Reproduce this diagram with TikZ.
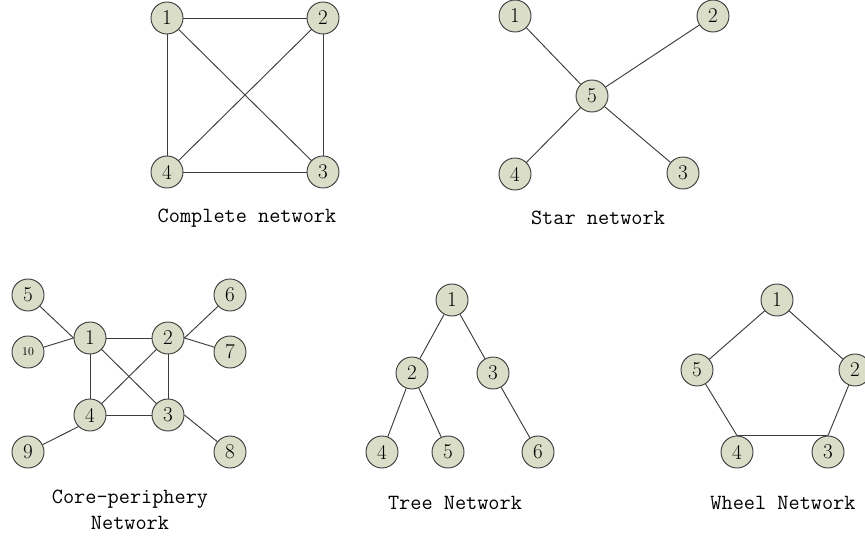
\documentclass[tikz,border=0pt]{standalone}
\usepackage{amsmath}
\usepackage{tikz}
\usetikzlibrary{positioning}

\definecolor{nodefill}{RGB}{218,222,201}
\definecolor{linegray}{RGB}{60,60,60}

\begin{document}
\begin{tikzpicture}[x=0.03cm,y=-0.03cm,
    vertex/.style={circle,draw=linegray,line width=0.8pt,fill=nodefill,
        minimum size=0.96cm,inner sep=0pt,font=\fontsize{18}{20}\selectfont},
    caption/.style={font=\fontsize{18.5}{22}\selectfont\ttfamily,align=center},
    every edge/.style={draw=linegray,line width=0.8pt}]
    \useasboundingbox (0,0) rectangle (865,537);

    % complete network
    \node[vertex] (c_1) at (167,18) {1};
    \node[vertex] (c_2) at (323,18) {2};
    \node[vertex] (c_3) at (323,172) {3};
    \node[vertex] (c_4) at (167,172) {4};
    \node[caption] (c_lbl) at (247,218) {Complete network};

    \path
    (c_1) edge (c_2)
    (c_2) edge (c_3)
    (c_3) edge (c_4)
    (c_4) edge (c_1)
    (c_1) edge (c_3)
    (c_2) edge (c_4)
    ;

    % star network
    \node[vertex] (s_1) at (515,16) {1};
    \node[vertex] (s_2) at (713,16) {2};
    \node[vertex] (s_5) at (592,96) {5};
    \node[vertex] (s_4) at (515,174) {4};
    \node[vertex] (s_3) at (683,173) {3};
    \node[caption] (s_lbl) at (598,218) {Star network};

    \path
    (s_1) edge (s_5)
    (s_2) edge (s_5)
    (s_3) edge (s_5)
    (s_4) edge (s_5)
    ;

    % core-periphery network
    \node[vertex] (p_1) at (90,338) {1};
    \node[vertex] (p_2) at (168,338) {2};
    \node[vertex] (p_3) at (168,415) {3};
    \node[vertex] (p_4) at (90,415) {4};
    \node[vertex] (p_5) at (28,295) {5};
    \node[vertex,font=\fontsize{10}{12}\selectfont] (p_10) at (28,352) {10};
    \node[vertex] (p_6) at (230,295) {6};
    \node[vertex] (p_7) at (230,352) {7};
    \node[vertex] (p_9) at (28,452) {9};
    \node[vertex] (p_8) at (230,452) {8};
    \node[caption] (p_lbl) at (130,510) {Core-periphery\\Network};

    \path
    (p_1) edge (p_2)
    (p_2) edge (p_3)
    (p_3) edge (p_4)
    (p_4) edge (p_1)
    (p_1) edge (p_3)
    (p_2) edge (p_4)
    (p_5) edge (p_1.west)
    (p_10) edge (p_1.west)
    (p_6) edge (p_2.east)
    (p_7) edge (p_2.east)
    (p_9) edge (p_4.south west)
    (p_8) edge (p_3.east)
    ;

    % tree network
    \node[vertex] (t_1) at (452,300) {1};
    \node[vertex] (t_2) at (412,373) {2};
    \node[vertex] (t_3) at (493,373) {3};
    \node[vertex] (t_4) at (382,452) {4};
    \node[vertex] (t_5) at (448,452) {5};
    \node[vertex] (t_6) at (538,452) {6};
    \node[caption] (t_lbl) at (455,503) {Tree Network};

    \path
    (t_1) edge (t_2)
    (t_1) edge (t_3)
    (t_2) edge (t_4)
    (t_2) edge (t_5)
    (t_3) edge (t_6)
    ;

    % wheel network
    \node[vertex] (w_1) at (777,300) {1};
    \node[vertex] (w_2) at (855,370) {2};
    \node[vertex] (w_3) at (828,452) {3};
    \node[vertex] (w_4) at (737,452) {4};
    \node[vertex] (w_5) at (697,370) {5};
    \node[caption] (w_lbl) at (783,503) {Wheel Network};

    \path
    (w_1) edge (w_2)
    (w_2) edge (w_3.north)
    (w_3.north) edge (w_4.north)
    (w_4.north) edge (w_5)
    (w_5) edge (w_1)
    ;
\end{tikzpicture}
\end{document}
